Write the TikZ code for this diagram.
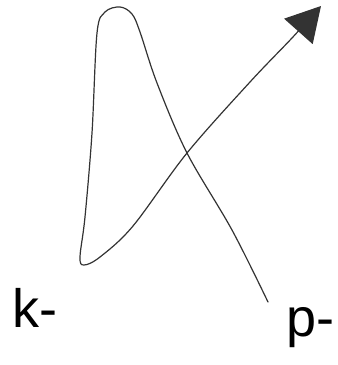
\documentclass[tikz,border=0pt]{standalone}
\usepackage{fontspec}
\setmainfont{Liberation Sans}
\usetikzlibrary{arrows.meta}
\begin{document}
\begin{tikzpicture}[x=1pt,y=-1pt,
  stroke/.style={line width=1.2pt,black!80,line cap=round,line join=round},
  lbl/.style={inner sep=0pt,anchor=base west,font=\fontsize{54}{60}\selectfont}]
\useasboundingbox (0,0) rectangle (338,365);
\coordinate (start) at (268,302);
\coordinate (tip) at (321,6);
\node[lbl] (k) at (12,327) {k-};
\node[lbl] (p) at (286,336) {p-};
\draw[stroke,-{Triangle[length=34pt,width=38pt]}]
  plot[smooth,tension=0.55] coordinates {
    (start) (232,230) (187,153) (157,83) (140,32) (132,14) (120,7)
    (105,12) (97,33) (92,133) (85,217) (80,257) (84,265) (100,257)
    (133,226) (187,153) (250,82) (292,38) (tip)};
\end{tikzpicture}
\end{document}
